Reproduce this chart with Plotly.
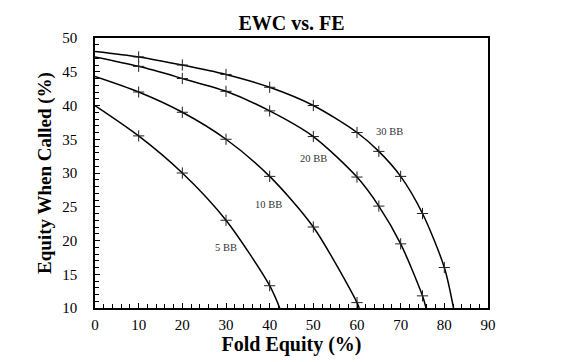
import plotly.graph_objects as go

# Data (Fold Equity %, Equity When Called %)
fe_30 = [0, 10, 20, 30, 40, 50, 60, 65, 70, 75, 80, 82.1]
ewc_30 = [48.0, 47.2, 46.0, 44.6, 42.7, 40.0, 36.0, 33.2, 29.5, 24.0, 16.0, 10.0]

fe_20 = [0, 10, 20, 30, 40, 50, 60, 65, 70, 75, 75.8]
ewc_20 = [47.2, 45.8, 44.0, 42.1, 39.2, 35.4, 29.4, 25.1, 19.5, 11.8, 10.0]

fe_10 = [0, 10, 20, 30, 40, 50, 60, 60.5]
ewc_10 = [44.3, 42.0, 39.0, 35.0, 29.5, 22.0, 10.8, 10.0]

fe_5 = [0, 10, 20, 30, 40, 42.3]
ewc_5 = [40.0, 35.5, 30.0, 23.0, 13.3, 10.0]

series = [
    ("30 BB", fe_30, ewc_30),
    ("20 BB", fe_20, ewc_20),
    ("10 BB", fe_10, ewc_10),
    ("5 BB", fe_5, ewc_5),
]

# label positions (data coords)
label_names = ["30 BB", "20 BB", "10 BB", "5 BB"]
label_x = [67.5, 50.0, 39.8, 30.1]
label_y = [36.2, 32.1, 25.4, 18.9]

x_ticks = list(range(0, 91, 10))
y_ticks = list(range(10, 51, 5))

SERIF = "Liberation Serif, Times New Roman, serif"

fig = go.Figure()
for name, xs, ys in series:
    fig.add_trace(go.Scatter(
        x=xs, y=ys, mode="lines", name=name,
        line=dict(color="black", width=1.5, shape="spline", smoothing=0.8),
        showlegend=False, hoverinfo="skip"))
    fig.add_trace(go.Scatter(
        x=xs[1:-1], y=ys[1:-1], mode="markers", name=name,
        marker=dict(symbol="cross-thin", size=8, line=dict(color="#222", width=1)),
        showlegend=False))

for t, lx, ly in zip(label_names, label_x, label_y):
    fig.add_annotation(x=lx, y=ly, text=t, showarrow=False,
                       font=dict(family=SERIF, size=10.5, color="#333"))

fig.update_layout(
    width=566, height=362,
    margin=dict(l=95, r=78, t=38, b=54, autoexpand=False),
    paper_bgcolor="white", plot_bgcolor="white",
    title=dict(text="<b>EWC vs. FE</b>", x=0.515, xanchor="center", y=1 - 23 / 362,
               yanchor="middle",
               font=dict(family=SERIF, size=20, color="black")),
    font=dict(family=SERIF, color="black"),
)
fig.update_xaxes(
    range=[0, 90], tickvals=x_ticks, ticktext=[str(v) for v in x_ticks],
    showgrid=False, zeroline=False, automargin=False,
    showline=True, linecolor="black", linewidth=1.5, mirror=True,
    ticks="inside", ticklen=5, tickcolor="black", tickwidth=1,
    minor=dict(dtick=2, ticks="inside", ticklen=4, tickcolor="black", tickwidth=1),
    tickfont=dict(family=SERIF, size=15, color="black"),
    ticklabelstandoff=2,
    title=dict(text="<b>Fold Equity (%)</b>", standoff=2,
               font=dict(family=SERIF, size=20, color="black")),
)
fig.update_yaxes(
    range=[10, 50], tickvals=y_ticks, ticktext=[str(v) for v in y_ticks],
    showgrid=False, zeroline=False, automargin=False,
    showline=True, linecolor="black", linewidth=1.5, mirror=True,
    ticks="inside", ticklen=5, tickcolor="black", tickwidth=1,
    minor=dict(dtick=1, ticks="inside", ticklen=4, tickcolor="black", tickwidth=1),
    tickfont=dict(family=SERIF, size=15, color="black"),
    ticklabelstandoff=13,
    title=dict(text="<b>Equity When Called (%)</b>", standoff=6,
               font=dict(family=SERIF, size=19, color="black")),
)

fig.write_html("out.html",
               config={"displayModeBar": False},
               post_script="document.body.style.margin='0';document.body.style.padding='0';")
